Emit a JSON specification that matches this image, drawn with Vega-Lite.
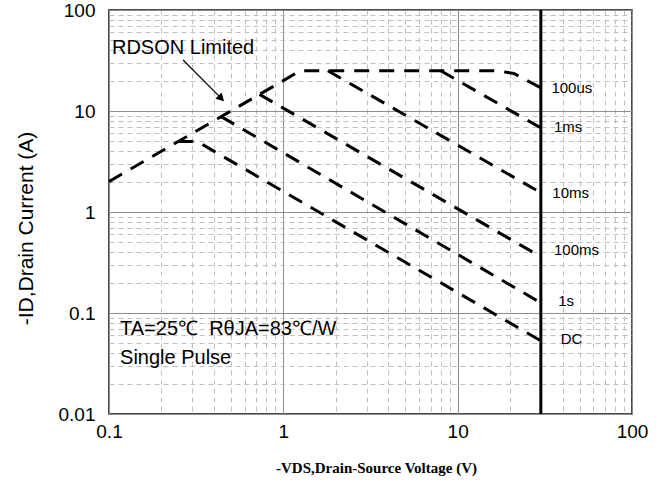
{
  "$schema": "https://vega.github.io/schema/vega-lite/v6.json",
  "width": 523,
  "height": 404,
  "autosize": {"type": "none"},
  "padding": {"left": 109, "top": 10, "right": 32, "bottom": 68},
  "config": {
    "view": {"stroke": "#111", "strokeWidth": 1.5},
    "font": "Liberation Sans",
    "axis": {
      "labelFont": "Liberation Sans",
      "labelColor": "#000",
      "labelFontSize": 19,
      "ticks": false,
      "tickSize": 0,
      "domain": false,
      "labelFlush": false,
      "labelOverlap": false
    }
  },
  "datasets": {
    "curves": [
      {"series": "100us", "ord": 1, "v": 0.1, "i": 2},
      {"series": "100us", "ord": 2, "v": 1.25, "i": 25},
      {"series": "100us", "ord": 3, "v": 17, "i": 25},
      {"series": "100us", "ord": 4, "v": 21, "i": 23.5},
      {"series": "100us", "ord": 5, "v": 30, "i": 17},
      {"series": "1ms", "ord": 1, "v": 8, "i": 25},
      {"series": "1ms", "ord": 2, "v": 30, "i": 6.8},
      {"series": "10ms", "ord": 1, "v": 1.8, "i": 25},
      {"series": "10ms", "ord": 2, "v": 30, "i": 1.55},
      {"series": "100ms", "ord": 1, "v": 0.73, "i": 14.6},
      {"series": "100ms", "ord": 2, "v": 30, "i": 0.36},
      {"series": "1s", "ord": 1, "v": 0.44, "i": 8.8},
      {"series": "1s", "ord": 2, "v": 30, "i": 0.126},
      {"series": "DC", "ord": 1, "v": 0.25, "i": 5},
      {"series": "DC", "ord": 2, "v": 0.32, "i": 5},
      {"series": "DC", "ord": 3, "v": 30, "i": 0.053}
    ],
    "labels": [
      {"label": "100us", "v": 34.5, "i": 16.9},
      {"label": "1ms", "v": 35.7, "i": 6.95},
      {"label": "10ms", "v": 34.9, "i": 1.54},
      {"label": "100ms", "v": 35.7, "i": 0.42},
      {"label": "1s", "v": 37.7, "i": 0.13},
      {"label": "DC", "v": 39, "i": 0.055}
    ],
    "notes": [
      {"text": "RDSON Limited", "v": 0.104, "i": 42},
      {"text": "TA=25℃\u00a0 RθJA=83℃/W", "v": 0.1157, "i": 0.0695},
      {"text": "Single Pulse", "v": 0.1157, "i": 0.0358}
    ],
    "arrow": [
      {"ord": 1, "v": 0.266, "i": 32},
      {"ord": 2, "v": 0.451, "i": 12.8}
    ],
    "arrowhead": [
      {"v": 0.435, "i": 13.6}
    ],
    "limit": [
      {"v": 30}
    ]
  },
  "layer": [
    {
      "data": {"name": "curves"},
      "mark": {"type": "line", "color": "#000", "strokeWidth": 3, "strokeDash": [15, 10]},
      "encoding": {
        "x": {
          "field": "v", "type": "quantitative",
          "scale": {"type": "log", "domain": [0.1, 100], "nice": false},
          "axis": {
            "title": "-VDS,Drain-Source Voltage (V)",
            "titleFont": "Liberation Serif",
            "titleFontWeight": "bold",
            "titleFontSize": 15,
            "titleColor": "#000",
            "titleX": 267,
            "titleY": 53,
            "titleBaseline": "middle",
            "titleAlign": "center",
            "labelPadding": 8,
            "values": [0.1,0.2,0.3,0.4,0.5,0.6,0.7,0.8,0.9,1,2,3,4,5,6,7,8,9,10,20,30,40,50,60,70,80,90,100],
            "labelExpr": "abs(log(datum.value)/LN10 - round(log(datum.value)/LN10)) < 0.001 ? format(datum.value, '~g') : ''",
            "grid": true,
            "gridColor": {"condition": {"test": "abs(log(datum.value)/LN10 - round(log(datum.value)/LN10)) < 0.001", "value": "#8c8c8c"}, "value": "#c0c0c0"},
            "gridDash": {"condition": {"test": "abs(log(datum.value)/LN10 - round(log(datum.value)/LN10)) < 0.001", "value": []}, "value": [5, 4]},
            "gridWidth": 1,
            "gridOpacity": 1
          }
        },
        "y": {
          "field": "i", "type": "quantitative",
          "scale": {"type": "log", "domain": [0.01, 100], "nice": false},
          "axis": {
            "title": "-ID,Drain Current (A)",
            "titleFont": "Liberation Sans",
            "titleFontWeight": "normal",
            "titleFontSize": 21,
            "titleColor": "#000",
            "titleAngle": 270,
            "titleX": -83,
            "titleY": 218,
            "titleBaseline": "middle",
            "titleAlign": "center",
            "labelPadding": 14,
            "values": [0.01,0.02,0.03,0.04,0.05,0.06,0.07,0.08,0.09,0.1,0.2,0.3,0.4,0.5,0.6,0.7,0.8,0.9,1,2,3,4,5,6,7,8,9,10,20,30,40,50,60,70,80,90,100],
            "labelExpr": "abs(log(datum.value)/LN10 - round(log(datum.value)/LN10)) < 0.001 ? format(datum.value, '~g') : ''",
            "grid": true,
            "gridColor": {"condition": {"test": "abs(log(datum.value)/LN10 - round(log(datum.value)/LN10)) < 0.001", "value": "#8c8c8c"}, "value": "#c0c0c0"},
            "gridDash": {"condition": {"test": "abs(log(datum.value)/LN10 - round(log(datum.value)/LN10)) < 0.001", "value": []}, "value": [5, 4]},
            "gridWidth": 1,
            "gridOpacity": 1
          }
        },
        "detail": {"field": "series"},
        "order": {"field": "ord"}
      }
    },
    {
      "data": {"name": "limit"},
      "mark": {"type": "rule", "color": "#000", "strokeWidth": 3},
      "encoding": {
        "x": {"field": "v", "type": "quantitative"}
      }
    },
    {
      "data": {"name": "labels"},
      "mark": {"type": "text", "align": "left", "baseline": "middle", "fontSize": 15, "font": "Liberation Sans", "color": "#000"},
      "encoding": {
        "x": {"field": "v", "type": "quantitative"},
        "y": {"field": "i", "type": "quantitative"},
        "text": {"field": "label"}
      }
    },
    {
      "data": {"name": "notes"},
      "mark": {"type": "text", "align": "left", "baseline": "middle", "fontSize": 20, "font": "Liberation Sans", "color": "#000"},
      "encoding": {
        "x": {"field": "v", "type": "quantitative"},
        "y": {"field": "i", "type": "quantitative"},
        "text": {"field": "text"}
      }
    },
    {
      "data": {"name": "arrow"},
      "mark": {"type": "line", "color": "#000", "strokeWidth": 1.2},
      "encoding": {
        "x": {"field": "v", "type": "quantitative"},
        "y": {"field": "i", "type": "quantitative"},
        "order": {"field": "ord"}
      }
    },
    {
      "data": {"name": "arrowhead"},
      "mark": {"type": "point", "shape": "triangle", "filled": true, "color": "#000", "opacity": 1, "size": 80, "angle": 135},
      "encoding": {
        "x": {"field": "v", "type": "quantitative"},
        "y": {"field": "i", "type": "quantitative"}
      }
    }
  ]
}
